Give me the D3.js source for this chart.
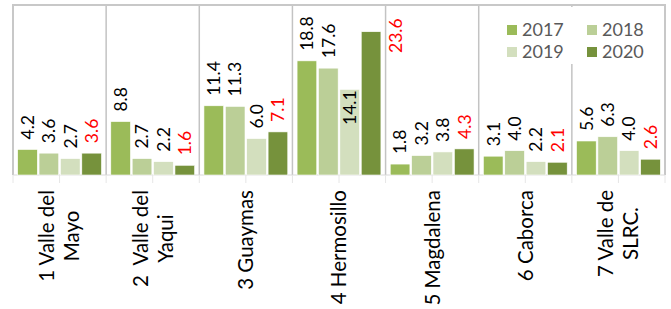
<!DOCTYPE html>
<html>
<head>
<meta charset="utf-8">
<script src="https://cdn.jsdelivr.net/npm/d3@7"></script>
<style>
  body { margin: 0; background: #fff; }
  svg { display: block; font-family: Lato, "Open Sans", sans-serif; }
  .cat { white-space: pre; }
</style>
</head>
<body>
<div class="chart"></div>
<script>
// data
const categories = [
  ["1 Valle del", "Mayo"],
  ["2  Valle del", "Yaqui"],
  ["3 Guaymas"],
  ["4 Hermosillo"],
  ["5 Magdalena"],
  ["6 Caborca"],
  ["7 Valle de", "SLRC."]
];
const years = ["2017", "2018", "2019", "2020"];
const v2017 = [4.2, 8.8, 11.4, 18.8, 1.8, 3.1, 5.6];
const v2018 = [3.6, 2.7, 11.3, 17.6, 3.2, 4.0, 6.3];
const v2019 = [2.7, 2.2, 6.0, 14.1, 3.8, 2.2, 4.0];
const v2020 = [3.6, 1.6, 7.1, 23.6, 4.3, 2.1, 2.6];
// labels that were moved by hand in the original
const movedLabels = [
  { cat: 3, year: "2019", place: "inside" },
  { cat: 3, year: "2020", place: "beside" }
];

const series = [v2017, v2018, v2019, v2020];
const colors = d3.scaleOrdinal()
  .domain(years)
  .range(["#9bbb59", "#bbcf97", "#d3dfbe", "#76923c"]);
const labelColor = (y) => y === "2020" ? "#ff0000" : "#000";

const margin = { left: 13, right: 6, top: 5, bottom: 134 };
const W = 671, H = 309;

const svg = d3.select(".chart")
  .append("svg")
    .attr("width", W)
    .attr("height", H);

const x0 = d3.scaleBand()
  .domain(d3.range(categories.length))
  .range([margin.left, W - margin.right])
  .paddingInner(0.1)
  .paddingOuter(0.05);

const x1 = d3.scaleBand()
  .domain(years)
  .range([0, x0.bandwidth()])
  .paddingInner(0.08);

const y = d3.scaleLinear()
  .domain([0, 28])
  .range([H - margin.bottom, margin.top]);

const step = x0.step();
const left = margin.left, right = W - margin.right;
const base = y(0);

// category separators (outer ones are the plot edges)
svg.append("g")
  .selectAll("line")
  .data(d3.range(categories.length + 1))
  .enter()
  .append("line")
    .attr("x1", (i) => left + i * step)
    .attr("x2", (i) => left + i * step)
    .attr("y1", margin.top)
    .attr("y2", base)
    .attr("stroke", (i) => i === 0 || i === categories.length ? "#c8c8c8" : "#c3c3c3")
    .attr("stroke-width", (i) => i === 0 || i === categories.length ? 2 : 1.5);

// top edge
svg.append("line")
  .attr("x1", left - 1).attr("x2", right + 1)
  .attr("y1", margin.top).attr("y2", margin.top)
  .attr("stroke", "#c8c8c8")
  .attr("stroke-width", 2);

// axis line and ticks below it
svg.append("line")
  .attr("x1", left).attr("x2", right)
  .attr("y1", base).attr("y2", base)
  .attr("stroke", "#d9d9d9");

svg.append("g")
  .selectAll("line")
  .data(d3.range(categories.length * 2 + 1))
  .enter()
  .append("line")
    .attr("x1", (i) => left + i * step / 2)
    .attr("x2", (i) => left + i * step / 2)
    .attr("y1", base)
    .attr("y2", base + 8)
    .attr("stroke", "#e6e6e6");

// bars
const rows = [];
categories.forEach((c, ci) => {
  years.forEach((yr, si) => {
    const m = movedLabels.find((d) => d.cat === ci && d.year === yr);
    rows.push({ ci, yr, value: series[si][ci], place: m ? m.place : "out" });
  });
});

const groups = svg.append("g");

groups.selectAll("rect")
  .data(rows)
  .enter()
  .append("rect")
    .attr("x", (d) => x0(d.ci) + x1(d.yr))
    .attr("y", (d) => y(d.value))
    .attr("width", x1.bandwidth())
    .attr("height", (d) => base - y(d.value))
    .attr("fill", (d) => colors(d.yr))
    .attr("stroke", "#fff")
    .attr("stroke-width", 0.6);

// data labels, rotated
groups.selectAll("text")
  .data(rows)
  .enter()
  .append("text")
    .attr("transform", (d) => {
      let cx = x0(d.ci) + x1(d.yr) + x1.bandwidth() / 2;
      let cy = y(d.value) - 10;
      if (d.place === "inside") cy = y(d.value) + 1;
      if (d.place === "beside") { cx += x1.bandwidth() / 2 + 15; cy = y(d.value) + 4; }
      return `translate(${cx},${cy}) rotate(-90)`;
    })
    .attr("dy", "0.36em")
    .attr("text-anchor", (d) => d.place === "inside" ? "end" : d.place === "beside" ? "middle" : "start")
    .style("font-size", "17.5px")
    .attr("fill", (d) => labelColor(d.yr))
    .text((d) => d3.format(".1f")(d.value));

// category labels, rotated, lines centred on each other
const catTop = base + 15;
const catG = svg.append("g");
categories.forEach((lines, ci) => {
  const cx = x0(ci) + x0.bandwidth() / 2;
  const g = catG.append("g");
  const texts = g.selectAll("text")
    .data(lines)
    .enter()
    .append("text")
      .attr("class", "cat")
      .attr("text-anchor", "middle")
      .style("font-size", "20.5px")
      .attr("fill", "#000")
      .text((d) => d);
  const maxLen = d3.max(texts.nodes(), (n) => n.getComputedTextLength());
  const lh = 25;
  const n = lines.length;
  texts.attr("transform", (d, i) => {
    const bx = cx + (i - (n - 1) / 2) * lh;
    return `translate(${bx},${catTop + maxLen / 2}) rotate(-90)`;
  })
  .attr("dy", "0.36em");
});

// legend
const legend = svg.append("g");
legend.append("rect")
  .attr("x", 490).attr("y", 7)
  .attr("width", 168).attr("height", 57)
  .attr("fill", "#fff");

const li = legend.selectAll(".item")
  .data(years)
  .enter()
  .append("g")
    .attr("class", "item")
    .attr("transform", (d, i) => `translate(${507 + (i % 2) * 80},${25 + Math.floor(i / 2) * 22})`);

li.append("rect")
  .attr("width", 10).attr("height", 10)
  .attr("fill", (d) => colors(d));

li.append("text")
  .attr("x", 15)
  .attr("y", 11)
  .style("font-size", "18px")
  .attr("fill", "#595959")
  .text((d) => d);
</script>
</body>
</html>
